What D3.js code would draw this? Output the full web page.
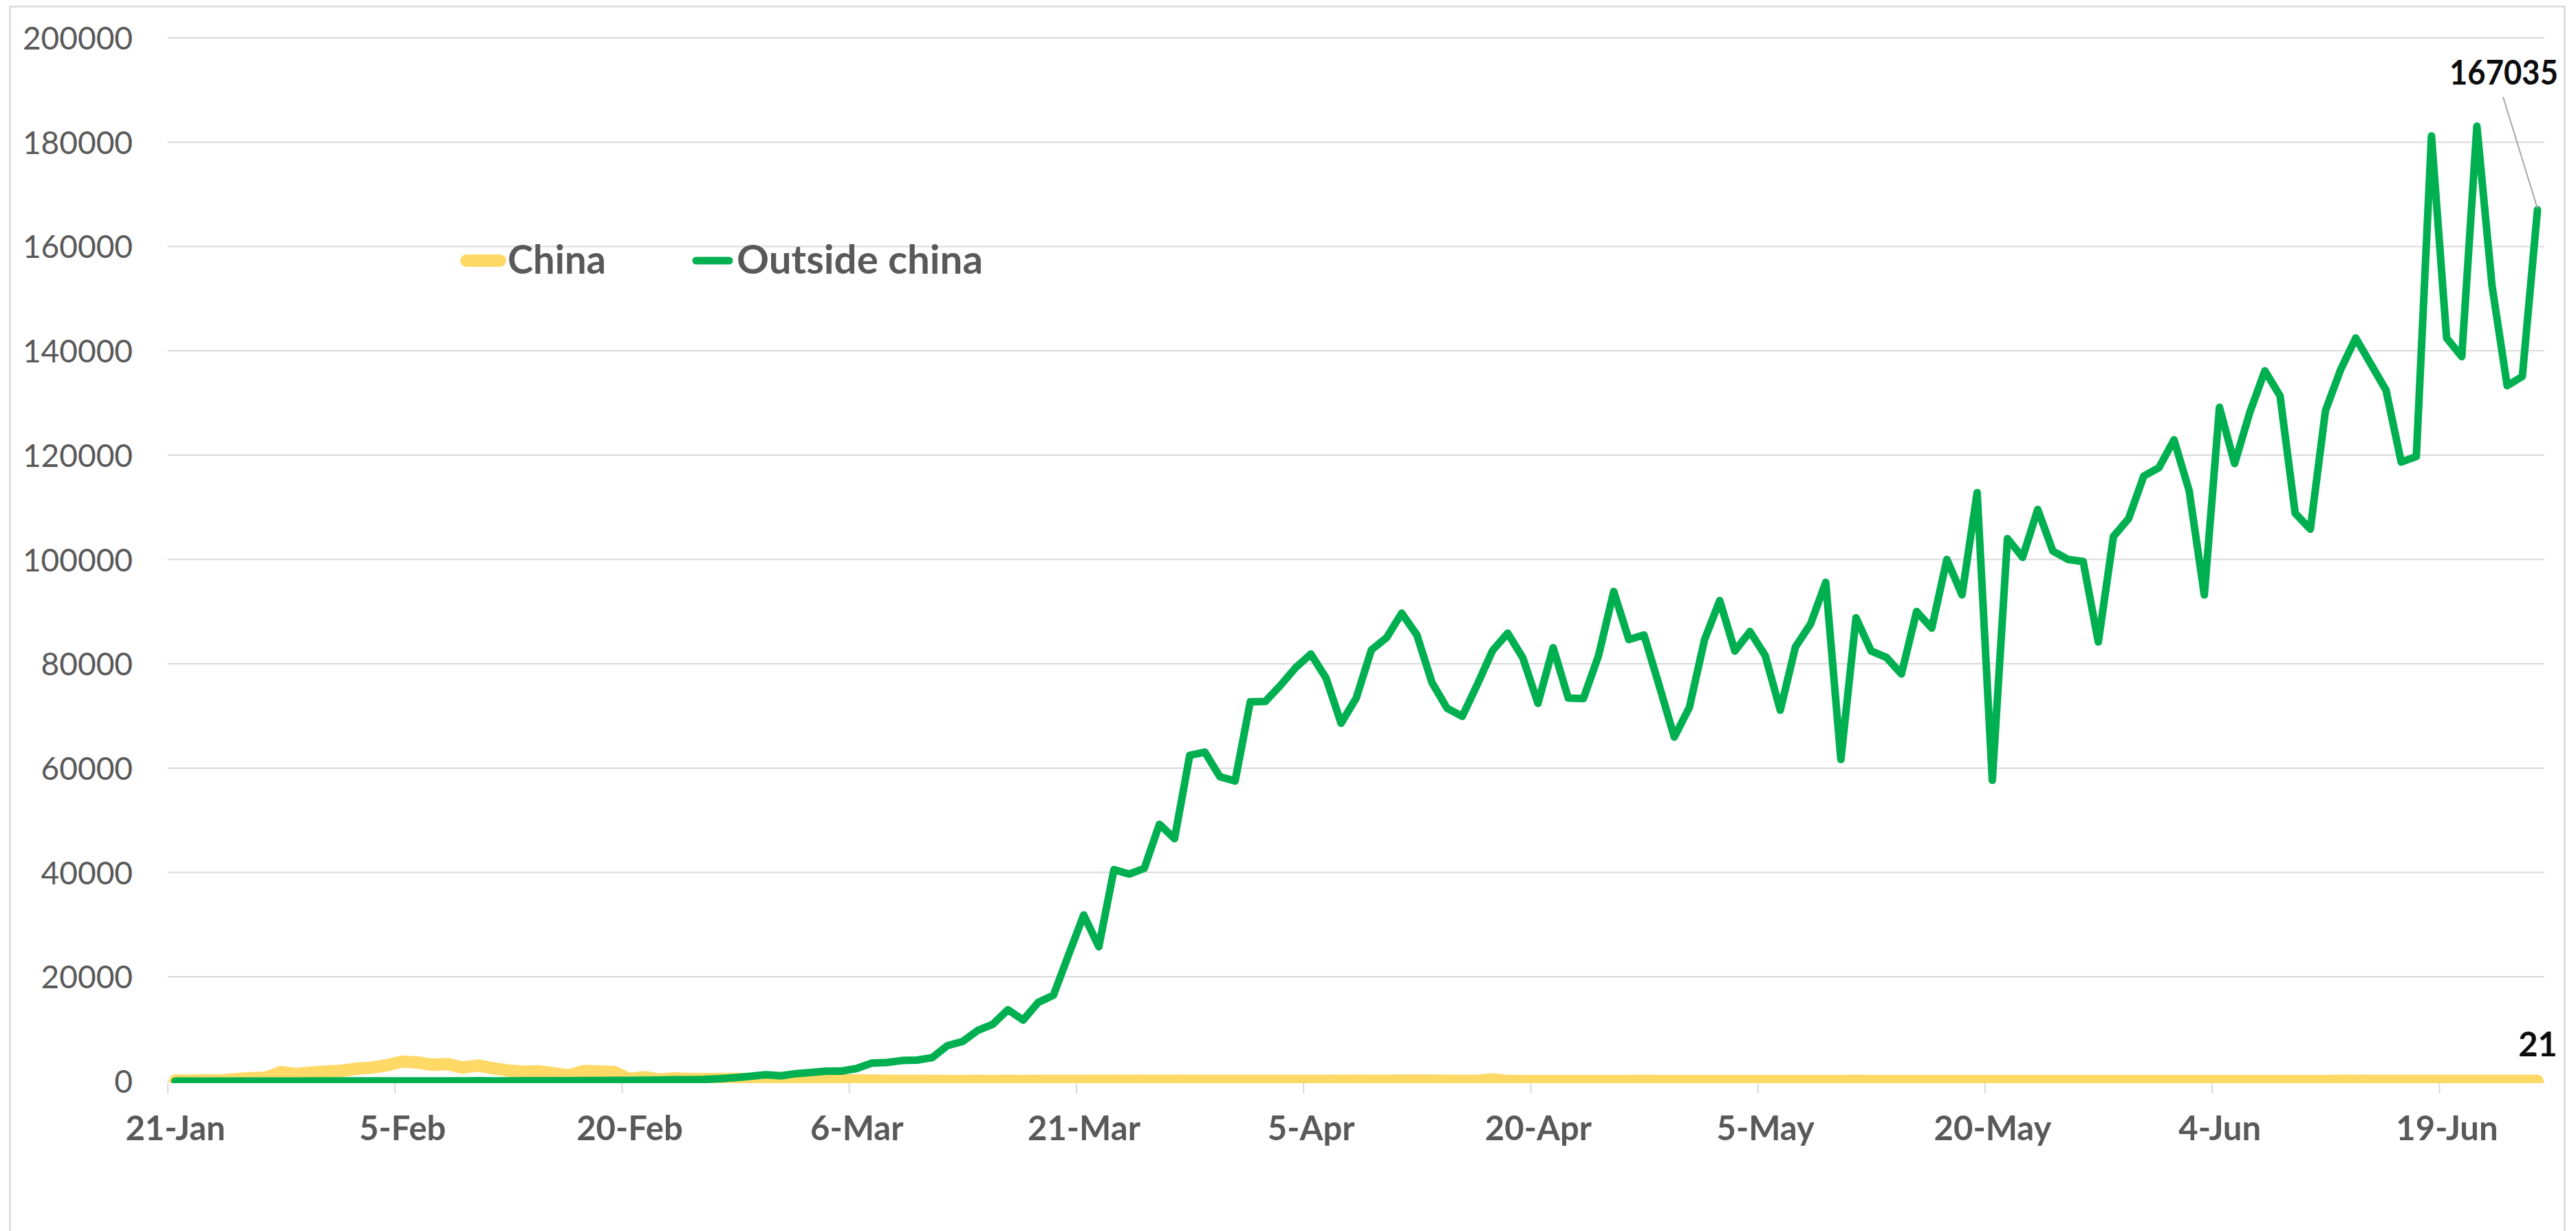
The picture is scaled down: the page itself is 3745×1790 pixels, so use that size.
<!DOCTYPE html>
<html>
<head>
<meta charset="utf-8">
<script src="https://cdn.jsdelivr.net/npm/d3@7"></script>
<style>
  html, body { margin: 0; padding: 0; background: #ffffff; }
  svg { display: block; }
  text { font-family: Lato, "Open Sans", sans-serif; }
</style>
</head>
<body>
<svg id="chart" width="3745" height="1790"></svg>
<script>
// ---- data -------------------------------------------------------------
const firstDay = "2020-01-21";
const lastDay = "2020-06-25";
const tickLabels = ["21-Jan", "5-Feb", "20-Feb", "6-Mar", "21-Mar", "5-Apr",
                    "20-Apr", "5-May", "20-May", "4-Jun", "19-Jun"];
const yTicks = [0, 20000, 40000, 60000, 80000, 100000, 120000, 140000, 160000, 180000, 200000];
const seriesNames = ["China", "Outside china"];

// daily new cases, one value per day from 21-Jan
const china = [
  88, 60, 130, 130, 350, 570, 660, 1710, 1360, 1630,
  1850, 1980, 2370, 2590, 3030, 3740, 3560, 3120, 3250, 2590,
  2990, 2460, 2020, 1800, 1890, 1490, 1060, 1930, 1850, 1710,
  400, 750, 310, 530, 400, 400, 410, 430, 330, 430,
  570, 200, 125, 120, 140, 145,
  99, 44, 40, 19, 24, 15, 11, 20, 16, 21, 13, 34, 39, 41, 46, 39, 78, 47, 67, 55, 54, 45, 31, 48, 36,
  35, 31, 19, 30, 39, 32, 62, 63, 42, 46, 99, 108, 89, 46, 26, 27, 352, 16, 8, 12, 11, 10, 12, 11, 6, 3, 22, 6, 4, 12,
  12, 2, 1, 3, 1, 2, 2, 4, 1, 14, 17, 1, 7, 3, 4, 5, 7, 6, 6, 5, 5, 4, 3, 11, 7, 7, 5, 3, 2, 4, 2,
  16, 5, 4, 6, 5, 3, 5, 3, 3, 2, 3, 18, 57, 49, 40, 44, 28, 25, 32, 26, 22, 25, 22, 19, 21
];
const outsideChina = [
  0, 2, 2, 8, 10, 12, 15, 10, 15, 20,
  20, 25, 20, 30, 25, 30, 25, 40, 35, 40,
  50, 45, 40, 60, 50, 70, 80, 90, 100, 120,
  130, 160, 200, 250, 270, 320, 450, 660, 930, 1210,
  1030, 1430, 1650, 1910, 1910, 2400,
  3450, 3550, 3940, 4020, 4500, 6790, 7580, 9710, 10900, 13670,
  11690, 15090, 16430, 24180, 31840, 25760, 40540, 39670, 40780, 49230,
  46470, 62440, 63070, 58330, 57530, 72710, 72790, 75870, 79270, 81870,
  77300, 68600, 73440, 82670, 85000, 89700, 85530, 76380, 71460, 69920,
  76070, 82530, 85870, 81120, 72420, 83100, 73440, 73350, 81570, 93870,
  84640, 85530, 75850, 65960, 71670, 84640, 92120, 82440, 86180, 81600,
  71100, 83230, 87620, 95610, 61660, 88820, 82440, 81240, 78040, 90020,
  86830, 100000, 93210, 112790, 57670, 104000, 100410, 109590, 101610, 100000,
  99600, 84190, 104400, 107830, 115980, 117580, 122930, 113180, 93210, 129160,
  118380, 128150, 136160, 131380, 108860, 105790, 128520, 136370, 142450, 137440,
  132450, 118660, 119730, 181190, 142450, 138880, 183050, 152460, 133310, 135090, 167035
];

// ---- layout -----------------------------------------------------------
const colors = { china: "#FFD966", outside: "#00B050", axisText: "#595959", grid: "#D9D9D9" };
const plot = { left: 243.5, right: 3700, top: 55, bottom: 1572 };

const svg = d3.select("#chart");
svg.append("rect").attr("width", 3745).attr("height", 1790).attr("fill", "#ffffff");
svg.append("rect")
  .attr("x", 14.5).attr("y", 9.5).attr("width", 3714).attr("height", 1800)
  .attr("fill", "none").attr("stroke", colors.grid).attr("stroke-width", 2.5);

const parseDay = d3.utcParse("%Y-%m-%d");
const start = parseDay(firstDay);
const days = d3.utcDay.range(start, d3.utcDay.offset(parseDay(lastDay), 1));

const x = d3.scaleUtc()
  .domain([start, d3.utcDay.offset(days[days.length - 1], 1)])
  .range([plot.left, plot.right]);
const y = d3.scaleLinear().domain([0, 200000]).range([plot.bottom, plot.top]);
const halfDay = x(d3.utcHour.offset(start, 12)) - x(start);
const px = i => x(days[i]) + halfDay;

// gridlines
svg.append("g").selectAll("line").data(yTicks).join("line")
  .attr("x1", plot.left).attr("x2", plot.right - 1)
  .attr("y1", d => y(d)).attr("y2", d => y(d))
  .attr("stroke", colors.grid).attr("stroke-width", 2);

// y axis labels
const yAxis = svg.append("g").attr("transform", `translate(${plot.left},0)`)
  .call(d3.axisLeft(y).tickValues(yTicks).tickSize(0).tickFormat(d3.format("d")));
yAxis.select(".domain").remove();
yAxis.selectAll("text")
  .attr("x", -50.5).attr("dy", "0.36em")
  .attr("fill", colors.axisText)
  .style("font-size", "46px").style("font-family", "Lato, sans-serif");

// x axis ticks and labels
const parseTick = d3.utcParse("%d-%b-%Y");
const tickDays = tickLabels.map(t => parseTick(t + "-2020"));
const xAxis = svg.append("g").attr("transform", `translate(0,${plot.bottom + 3})`)
  .call(d3.axisBottom(x).tickValues(tickDays).tickSize(15)
    .tickFormat((d, i) => tickLabels[i]));
xAxis.select(".domain").remove();
xAxis.selectAll(".tick line").attr("stroke", colors.grid).attr("stroke-width", 2);
xAxis.selectAll("text")
  .attr("x", halfDay).attr("y", 83).attr("dy", 0)
  .attr("fill", colors.axisText)
  .style("font-size", "49px").style("font-weight", "700").style("font-family", "Lato, sans-serif");

// series lines, clipped to the plot area
svg.append("clipPath").attr("id", "plotClip")
  .append("rect").attr("x", plot.left).attr("y", 0)
  .attr("width", plot.right - plot.left).attr("height", plot.bottom + 3);

const line = d3.line().x((d, i) => px(i)).y(d => y(d));
const lines = svg.append("g").attr("clip-path", "url(#plotClip)");
lines.append("path").datum(china)
  .attr("d", line).attr("fill", "none")
  .attr("stroke", colors.china).attr("stroke-width", 18)
  .attr("stroke-linejoin", "round").attr("stroke-linecap", "round");
lines.append("path").datum(outsideChina)
  .attr("d", line).attr("fill", "none")
  .attr("stroke", colors.outside).attr("stroke-width", 11)
  .attr("stroke-linejoin", "round").attr("stroke-linecap", "round");

// labels on the last values
const last = days.length - 1;
const lastOut = outsideChina[last], lastChina = china[last];
svg.append("line")
  .attr("x1", px(last) - 50).attr("y1", y(lastOut) - 164)
  .attr("x2", px(last)).attr("y2", y(lastOut) - 2)
  .attr("stroke", "#A6A6A6").attr("stroke-width", 2);
svg.append("text")
  .attr("x", px(last) + 30).attr("y", y(lastOut) - 182)
  .attr("text-anchor", "end").attr("fill", "#0D0D0D")
  .attr("textLength", 158).attr("lengthAdjust", "spacingAndGlyphs")
  .style("font-size", "49px").style("font-weight", "700")
  .text(d3.format("d")(lastOut));
svg.append("text")
  .attr("x", px(last) + 29).attr("y", y(lastChina) - 36)
  .attr("text-anchor", "end").attr("fill", "#0D0D0D")
  .style("font-size", "49px").style("font-weight", "700")
  .text(d3.format("d")(lastChina));

// legend
const legend = svg.append("g");
const legendItems = [
  { name: seriesNames[0], color: colors.china, width: 18, x1: 678, x2: 727, tx: 738, tl: 143 },
  { name: seriesNames[1], color: colors.outside, width: 11, x1: 1012, x2: 1060, tx: 1071, tl: 358 }
];
legendItems.forEach(it => {
  legend.append("line")
    .attr("x1", it.x1).attr("x2", it.x2).attr("y1", 379).attr("y2", 379)
    .attr("stroke", it.color).attr("stroke-width", it.width).attr("stroke-linecap", "round");
  legend.append("text")
    .attr("x", it.tx).attr("y", 398)
    .attr("fill", colors.axisText)
    .attr("textLength", it.tl).attr("lengthAdjust", "spacingAndGlyphs")
    .style("font-size", "57px").style("font-weight", "700")
    .text(it.name);
});
</script>
</body>
</html>
